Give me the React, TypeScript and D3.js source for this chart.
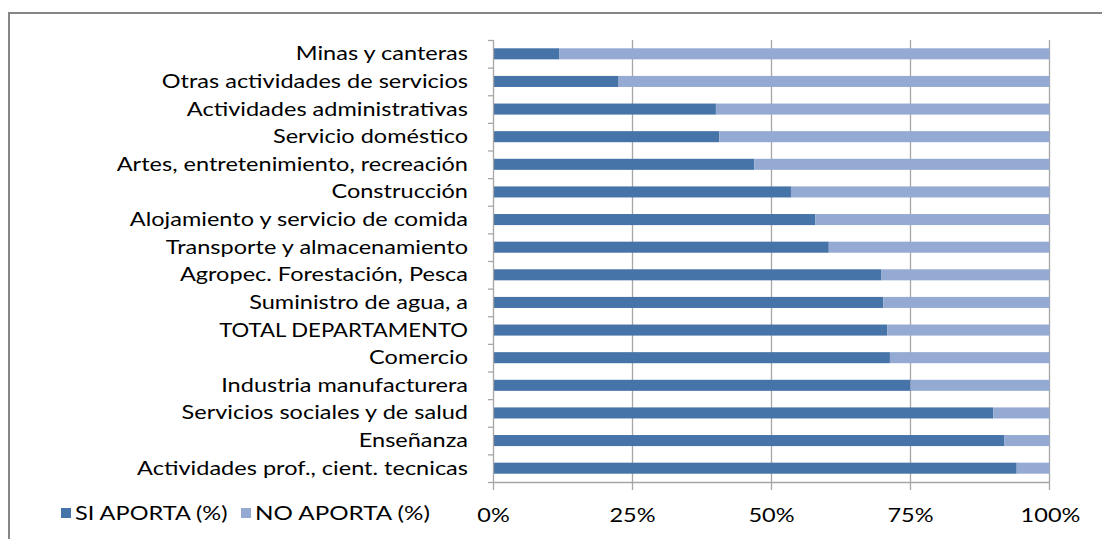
import React, { useMemo } from "react";
import * as d3 from "d3";

const categories = [
  "Minas y canteras",
  "Otras actividades de servicios",
  "Actividades administrativas",
  "Servicio doméstico",
  "Artes, entretenimiento, recreación",
  "Construcción",
  "Alojamiento y servicio de comida",
  "Transporte y almacenamiento",
  "Agropec. Forestación, Pesca",
  "Suministro de agua, a",
  "TOTAL DEPARTAMENTO",
  "Comercio",
  "Industria manufacturera",
  "Servicios sociales y de salud",
  "Enseñanza",
  "Actividades prof., cient. tecnicas",
];
const siAporta = [11.8, 22.5, 40.0, 40.6, 46.9, 53.5, 57.9, 60.3, 69.7, 70.1, 70.8, 71.3, 75.0, 89.9, 91.9, 94.1];
const noAporta = siAporta.map((v) => 100 - v);
const seriesNames = ["SI APORTA (%)", "NO APORTA (%)"];
const tickValues = [0, 25, 50, 75, 100];

const W = 1102;
const H = 539;
const FONT = "Lato, 'Open Sans', sans-serif";
const COLORS = ["#4673A8", "#94AAD2"];

export default function App() {
  const x = d3.scaleLinear().domain([0, 100]).range([493.5, 1049.5]);
  const y = d3.scaleBand<string>().domain(categories).range([40, 482]).paddingInner(0.6).paddingOuter(0.3);
  const yb = d3.scaleBand<string>().domain(categories).range([40, 482]);
  const stackData = categories.map((c, i) => ({ c, si: siAporta[i], no: noAporta[i] }));
  const stack = d3.stack<any>().keys(["si", "no"])(stackData);
  const fs = 18.5;
  const longest = categories[categories.length - 1];
  const sx = useMemo(() => {
    try {
      const ctx = document.createElement("canvas").getContext("2d");
      if (!ctx) return 1.2;
      ctx.font = `${fs}px Lato, 'Open Sans', sans-serif`;
      const w = ctx.measureText(longest).width;
      return w > 0 ? 331 / w : 1.2;
    } catch (e) {
      return 1.2;
    }
  }, []);
  const labelTransform = (c: string) => {
    const base = `translate(468,${(yb(c) as number) + yb.bandwidth() / 2})`;
    const s = c === "TOTAL DEPARTAMENTO" ? sx * 0.94 : sx;
    return `${base} scale(${s},1)`;
  };
  return (
    <svg width={W} height={H} style={{ position: "absolute", left: 0, top: 0, background: "#fff" }}>
      <rect x={0} y={0} width={W} height={H} fill="#fff" />
      {/* frame */}
      <path d={`M9,${H} V13 H${W}`} fill="none" stroke="#868686" strokeWidth={2} />
      {/* gridlines */}
      {tickValues.slice(1).map((t) => (
        <line key={t} x1={x(t)} x2={x(t)} y1={40} y2={490} stroke="#a6a6a6" strokeWidth={1.3} />
      ))}
      {/* bars */}
      {stack.map((s, si) =>
        s.map((d, i) => (
          <rect
            key={`${si}-${i}`}
            x={x(d[0])}
            width={x(d[1]) - x(d[0])}
            y={y(categories[i])}
            height={y.bandwidth()}
            fill={COLORS[si]}
          />
        ))
      )}
      {/* axes */}
      <line x1={493.5} x2={493.5} y1={40} y2={490} stroke="#a6a6a6" strokeWidth={1.3} />
      <line x1={493.5} x2={1049.5} y1={482.5} y2={482.5} stroke="#a6a6a6" strokeWidth={1.3} />
      {categories.map((c) => (
        <line key={c} x1={488} x2={493.5} y1={(yb(c) as number) + 0.5} y2={(yb(c) as number) + 0.5} stroke="#a6a6a6" strokeWidth={1.3} />
      ))}
      <line x1={488} x2={493.5} y1={482.5} y2={482.5} stroke="#a6a6a6" strokeWidth={1.3} />
      {categories.map((c) => (
        <text key={c} transform={labelTransform(c)} dy="0.35em" textAnchor="end" fontFamily={FONT} fontSize={fs} fill="#000">
          {c}
        </text>
      ))}
      {tickValues.map((t) => (
        <text
          key={t}
          transform={`translate(${t === 100 ? x(t) + 1 : x(t)},516) scale(${sx},1)`}
          dy="0.35em"
          textAnchor="middle"
          fontFamily={FONT}
          fontSize={fs}
          fill="#000"
        >
          {t}%
        </text>
      ))}
      {/* legend */}
      <rect x={61} y={508} width={10} height={10} fill={COLORS[0]} />
      <text transform={`translate(75,514) scale(${sx},1)`} dy="0.35em" fontFamily={FONT} fontSize={fs} fill="#000">{seriesNames[0]}</text>
      <rect x={241} y={508} width={10} height={10} fill={COLORS[1]} />
      <text transform={`translate(255,514) scale(${sx * 1.03},1)`} dy="0.35em" fontFamily={FONT} fontSize={fs} fill="#000">{seriesNames[1]}</text>
    </svg>
  );
}
